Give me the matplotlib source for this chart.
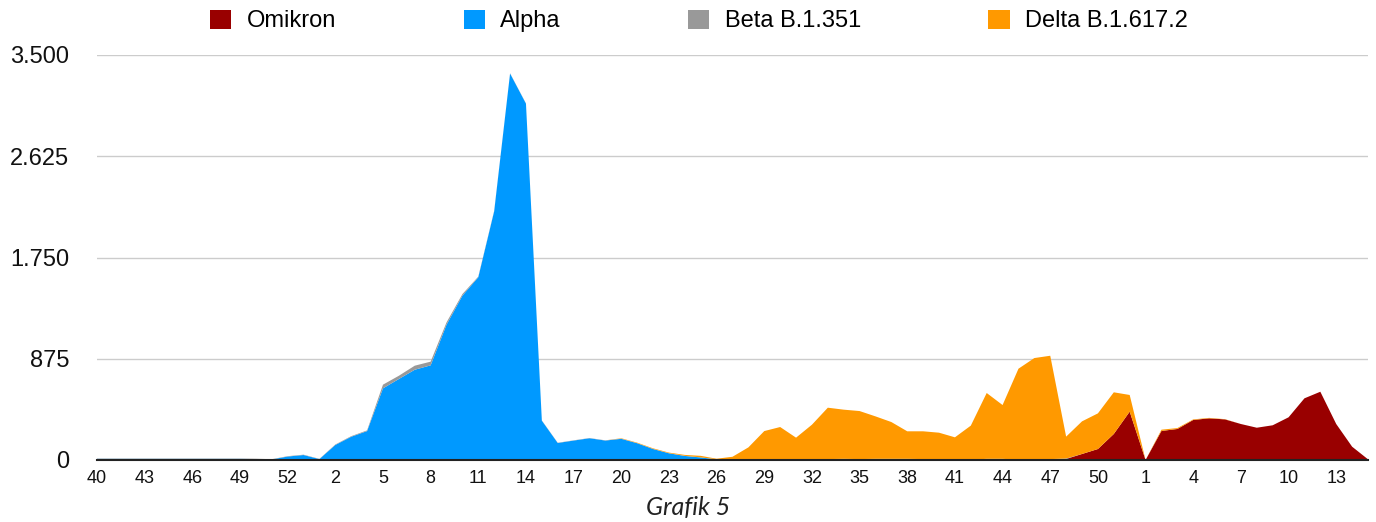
import numpy as np
import matplotlib
matplotlib.use("Agg")
import matplotlib.pyplot as plt
from matplotlib.patches import Patch
from matplotlib.ticker import FuncFormatter

plt.rcParams['font.family'] = ['Liberation Sans', 'DejaVu Sans']

# Calendar weeks: 2020 wk40-53, 2021 wk1-52, 2022 wk1-15
week_labels = [*range(40, 54), *range(1, 53), *range(1, 16)]

# Weekly sequenced cases per variant
omikron = [0] * 14 + [0] * 47 + [9, 52, 95, 225, 418] + \
    [0, 251, 268, 346, 360, 351, 311, 279, 300, 369, 533, 590, 311, 115, 6]

alpha = [10, 10, 10, 10, 10, 10, 10, 10, 10, 10, 8, 5, 30, 43] + \
    [8, 130, 201, 250, 619, 700, 780, 818, 1169, 1420, 1580, 2150, 3340, 3080,
     340, 147, 168, 188, 168, 183, 145, 95, 58, 35, 22, 6, 5, 5, 8, 8, 5, 8,
     8, 10, 8, 10, 10, 10, 8, 3, 8, 3, 10, 10, 3, 3, 8, 3, 0, 0, 0, 0] + \
    [0] * 15

beta = [3, 3, 3, 3, 3, 3, 3, 3, 3, 3, 3, 2, 3, 3] + \
    [2, 4, 5, 6, 32, 28, 35, 32, 20, 14, 5, 4, 2, 2, 2, 2, 2, 2, 2, 2, 1, 1,
     1, 1, 1, 0] + [0] * 26 + [0] * 15

delta = [0] * 14 + \
    [0] * 19 + [3, 4, 5, 5, 8, 13, 5, 23, 104, 242, 277, 188, 297, 444, 425,
                415, 367, 318, 238, 240, 233, 188, 294, 569, 465, 786, 878,
                893, 190, 282, 308, 360, 144] + \
    [0, 11, 8, 5, 4, 2, 0, 0, 0, 0, 0, 0, 0, 0, 0]

series_names = ['Omikron', 'Alpha', 'Beta B.1.351', 'Delta B.1.617.2']
colors = ['#990000', '#0099ff', '#999999', '#ff9900']

x = np.arange(len(week_labels))

fig = plt.figure(figsize=(13.76, 5.22), dpi=100)
ax = fig.add_axes([97 / 1376, 1 - 460 / 522, 1271 / 1376, 405 / 522])

ax.stackplot(x, omikron, alpha, beta, delta, colors=colors, lw=0)

ax.set_xlim(0, len(week_labels) - 1)
ax.set_ylim(0, 3500)
ax.set_yticks([0, 875, 1750, 2625, 3500])
ax.yaxis.set_major_formatter(FuncFormatter(lambda v, p: f"{int(v):,}".replace(",", ".")))
ax.set_xticks(x[::3])
ax.set_xticklabels([str(w) for w in week_labels[::3]])

ax.grid(axis='y', color='#cccccc', lw=1)
ax.set_axisbelow(True)
for s in ['top', 'right', 'left']:
    ax.spines[s].set_visible(False)
ax.spines['bottom'].set_color('#222222')
ax.spines['bottom'].set_linewidth(1.5)
ax.spines['bottom'].set_zorder(5)
ax.tick_params(axis='y', length=0, pad=20, labelsize=17, labelcolor='#111111')
ax.tick_params(axis='x', length=0, pad=7, labelsize=13, labelcolor='#111111')

handles = [Patch(facecolor=c, edgecolor='none') for c in colors]
fig.legend(handles, series_names, loc='center', bbox_to_anchor=(0.508, 1 - 21 / 522),
           ncol=4, frameon=False, fontsize=17, handlelength=0.9, handleheight=0.9,
           handletextpad=0.65, columnspacing=5.4)

fig.text(0.5, 1 - 508 / 522, 'Grafik 5', ha='center', va='center',
         fontsize=18, style='italic', family=['Lato', 'DejaVu Sans'], color='#222222')

fig.savefig('out.png', dpi=100)
